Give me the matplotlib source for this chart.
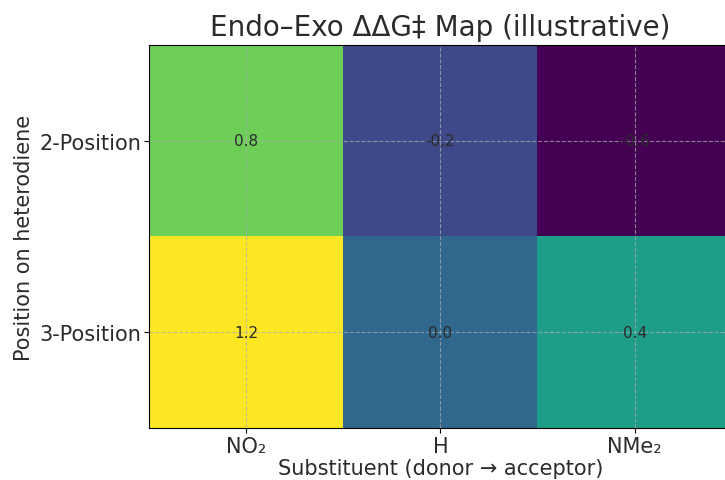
import numpy as np
import matplotlib
matplotlib.use('Agg')
import matplotlib.pyplot as plt

# Data
substituents = ['NO₂', 'H', 'NMe₂']
positions = ['2-Position', '3-Position']
ddg_2pos = [0.8, -0.2, -0.6]
ddg_3pos = [1.2, 0.0, 0.4]

TEXT_COLOR = '#2b2b2b'

data = np.array([ddg_2pos, ddg_3pos])

fig = plt.figure(figsize=(7.25, 4.81), dpi=100)
ax = fig.add_axes([149 / 725, 1 - 429 / 481, (732 - 149) / 725, (429 - 46) / 481])

ax.imshow(data, cmap='viridis', aspect='auto')

# Cell annotations
for i in range(data.shape[0]):
    for j in range(data.shape[1]):
        ax.text(j, i, f"{data[i, j]:.1f}", ha='center', va='center',
                fontsize=11, color=TEXT_COLOR)

ax.set_xticks(range(len(substituents)))
ax.set_xticklabels(substituents)
ax.set_yticks(range(len(positions)))
ax.set_yticklabels(positions)
ax.tick_params(axis='both', labelsize=15, colors='black', labelcolor=TEXT_COLOR,
               length=3.5, pad=2)

ax.set_xlabel('Substituent (donor → acceptor)', fontsize=15, color=TEXT_COLOR, labelpad=2)
ax.set_ylabel('Position on heterodiene', fontsize=15, color=TEXT_COLOR, labelpad=4)
ax.set_title('Endo–Exo ΔΔG‡ Map (illustrative)', fontsize=20, color=TEXT_COLOR, pad=7)

ax.grid(True, linestyle='--', color='#b0b0b0', alpha=0.7, linewidth=0.8)

fig.savefig('out.png', dpi=100)
